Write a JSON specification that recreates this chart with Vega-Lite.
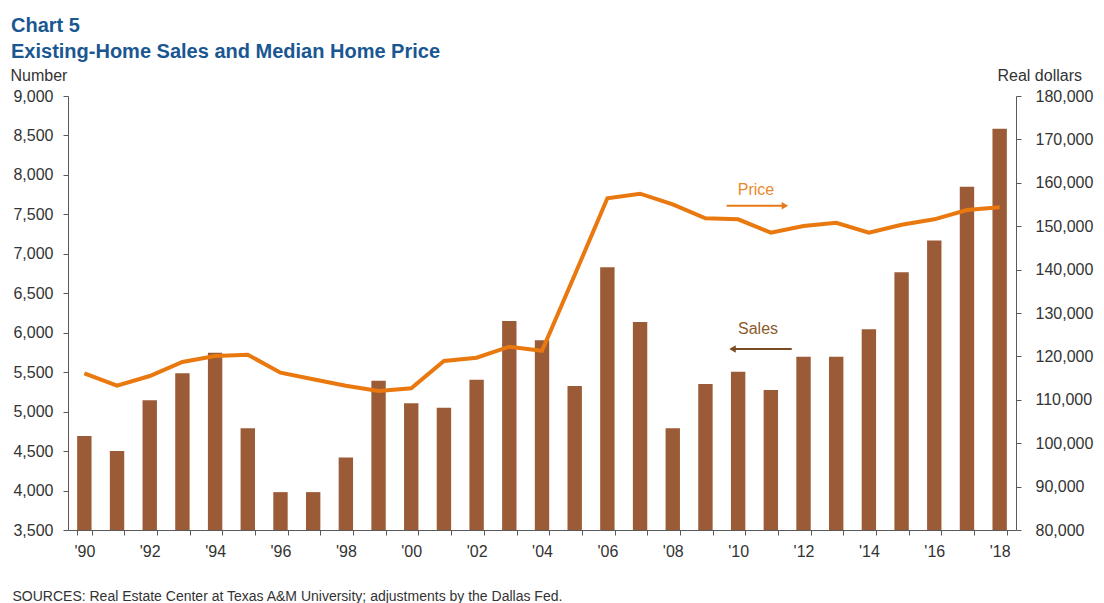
{
  "$schema": "https://vega.github.io/schema/vega-lite/v6.json",
  "width": 948,
  "height": 434,
  "autosize": {"type": "none"},
  "padding": {"left": 68, "top": 96, "right": 88, "bottom": 73},
  "background": "white",
  "config": {
    "font": "Liberation Sans",
    "view": {"stroke": null},
    "axis": {"labelFont": "Liberation Sans", "titleFont": "Liberation Sans", "labelColor": "#333333", "titleColor": "#333333", "domainColor": "#595959", "tickColor": "#595959", "grid": false}
  },
  "title": {
    "text": ["Chart 5", "Existing-Home  Sales and Median Home Price"],
    "anchor": "start",
    "frame": "bounds",
    "fontSize": 20,
    "fontWeight": "bold",
    "color": "#1A5792",
    "lineHeight": 26,
    "offset": 5,
    "dx": 1,
    "font": "Liberation Sans"
  },
  "data": {
    "values": [
      {"year": 1990, "sales": 4690, "price": 116100},
      {"year": 1991, "sales": 4500, "price": 113250},
      {"year": 1992, "sales": 5145, "price": 115480},
      {"year": 1993, "sales": 5485, "price": 118710},
      {"year": 1994, "sales": 5745, "price": 120090},
      {"year": 1995, "sales": 4790, "price": 120390},
      {"year": 1996, "sales": 3980, "price": 116240},
      {"year": 1997, "sales": 3980, "price": 114720},
      {"year": 1998, "sales": 4420, "price": 113250},
      {"year": 1999, "sales": 5390, "price": 112030},
      {"year": 2000, "sales": 5105, "price": 112650},
      {"year": 2001, "sales": 5050, "price": 118940},
      {"year": 2002, "sales": 5405, "price": 119700},
      {"year": 2003, "sales": 6150, "price": 122230},
      {"year": 2004, "sales": 5905, "price": 121310},
      {"year": 2005, "sales": 5325, "price": 138750},
      {"year": 2006, "sales": 6830, "price": 156420},
      {"year": 2007, "sales": 6135, "price": 157490},
      {"year": 2008, "sales": 4790, "price": 155040},
      {"year": 2009, "sales": 5350, "price": 151810},
      {"year": 2010, "sales": 5505, "price": 151580},
      {"year": 2011, "sales": 5275, "price": 148500},
      {"year": 2012, "sales": 5695, "price": 150040},
      {"year": 2013, "sales": 5695, "price": 150800},
      {"year": 2014, "sales": 6045, "price": 148500},
      {"year": 2015, "sales": 6765, "price": 150340},
      {"year": 2016, "sales": 7170, "price": 151580},
      {"year": 2017, "sales": 7850, "price": 153730},
      {"year": 2018, "sales": 8585, "price": 154350}
    ]
  },
  "encoding": {
    "x": {
      "field": "year",
      "type": "ordinal",
      "scale": {
        "domain": [1990,1991,1992,1993,1994,1995,1996,1997,1998,1999,2000,2001,2002,2003,2004,2005,2006,2007,2008,2009,2010,2011,2012,2013,2014,2015,2016,2017,2018],
        "paddingInner": 0.56,
        "paddingOuter": 0.28
      },
      "axis": {
        "title": "SOURCES:  Real Estate Center at Texas A&M University;  adjustments by the Dallas Fed.",
        "titleX": -56,
        "titleY": 70,
        "titleAlign": "left",
        "titleBaseline": "alphabetic",
        "titleFontSize": 14,
        "titleFontWeight": "normal",
        "tickBand": "extent",
        "labelAngle": 0,
        "labelExpr": "datum.value % 2 == 0 ? \"'\" + slice(datum.label, 2) : ''",
        "labelFontSize": 16,
        "labelPadding": 8,
        "tickSize": 5
      }
    }
  },
  "layer": [
    {
      "layer": [
        {
          "mark": {"type": "bar", "color": "#9B5B36"},
          "encoding": {
            "y": {
              "field": "sales",
              "type": "quantitative",
              "scale": {"domain": [3500, 9000], "zero": false, "nice": false},
              "axis": {
                "title": "Number",
                "titleAngle": 0,
                "titleX": -58,
                "titleY": -16,
                "titleAlign": "left",
                "titleBaseline": "alphabetic",
                "titleFontSize": 16,
                "titleFontWeight": "normal",
                "values": [3500,4000,4500,5000,5500,6000,6500,7000,7500,8000,8500,9000],
                "tickCount": 30,
                "format": ",d",
                "labelFontSize": 16,
                "labelPadding": 10,
                "labelOverlap": false,
                "tickSize": 5
              }
            },
            "y2": {"datum": 3500}
          }
        },
        {
          "data": {"values": [{"note": "Price"}]},
          "mark": {"type": "text", "color": "#E8892B", "fontSize": 16, "align": "center", "baseline": "middle"},
          "encoding": {
            "x": {"datum": 2011, "type": "ordinal", "bandPosition": -0.53},
            "y": {"datum": 7809, "type": "quantitative"},
            "text": {"field": "note"}
          }
        },
        {
          "data": {"values": [{"note": "Price"}]},
          "mark": {"type": "rule", "color": "#E8791A", "strokeWidth": 2},
          "encoding": {
            "x": {"datum": 2010, "type": "ordinal", "bandPosition": -0.3},
            "x2": {"datum": 2011, "bandPosition": 1.42},
            "y": {"datum": 7610, "type": "quantitative"}
          }
        },
        {
          "data": {"values": [{"note": "Price"}]},
          "mark": {"type": "point", "shape": "triangle-right", "filled": true, "opacity": 1, "color": "#E8791A", "size": 55},
          "encoding": {
            "x": {"datum": 2011, "type": "ordinal", "bandPosition": 1.48},
            "y": {"datum": 7610, "type": "quantitative"}
          }
        },
        {
          "data": {"values": [{"note": "Sales"}]},
          "mark": {"type": "text", "color": "#8B5A2B", "fontSize": 16, "align": "center", "baseline": "middle"},
          "encoding": {
            "x": {"datum": 2011, "type": "ordinal", "bandPosition": -0.39},
            "y": {"datum": 6047, "type": "quantitative"},
            "text": {"field": "note"}
          }
        },
        {
          "data": {"values": [{"note": "Sales"}]},
          "mark": {"type": "rule", "color": "#7A4A22", "strokeWidth": 2},
          "encoding": {
            "x": {"datum": 2010, "type": "ordinal", "bandPosition": 0.05},
            "x2": {"datum": 2012, "bandPosition": -0.32},
            "y": {"datum": 5794, "type": "quantitative"}
          }
        },
        {
          "data": {"values": [{"note": "Sales"}]},
          "mark": {"type": "point", "shape": "triangle-left", "filled": true, "opacity": 1, "color": "#7A4A22", "size": 55},
          "encoding": {
            "x": {"datum": 2010, "type": "ordinal", "bandPosition": 0.11},
            "y": {"datum": 5794, "type": "quantitative"}
          }
        }
      ]
    },
    {
      "mark": {"type": "line", "color": "#E9780F", "strokeWidth": 4},
      "encoding": {
        "y": {
          "field": "price",
          "type": "quantitative",
          "scale": {"domain": [80000, 180000], "zero": false, "nice": false},
          "axis": {
            "orient": "right",
            "title": "Real dollars",
            "titleAngle": 0,
            "titleX": -19,
            "titleY": -16,
            "titleAlign": "left",
            "titleBaseline": "alphabetic",
            "titleFontSize": 16,
            "titleFontWeight": "normal",
            "values": [80000,90000,100000,110000,120000,130000,140000,150000,160000,170000,180000],
            "tickCount": 30,
            "format": ",d",
            "labelFontSize": 16,
            "labelPadding": 14,
            "tickSize": 5
          }
        }
      }
    }
  ],
  "resolve": {"scale": {"y": "independent"}}
}
